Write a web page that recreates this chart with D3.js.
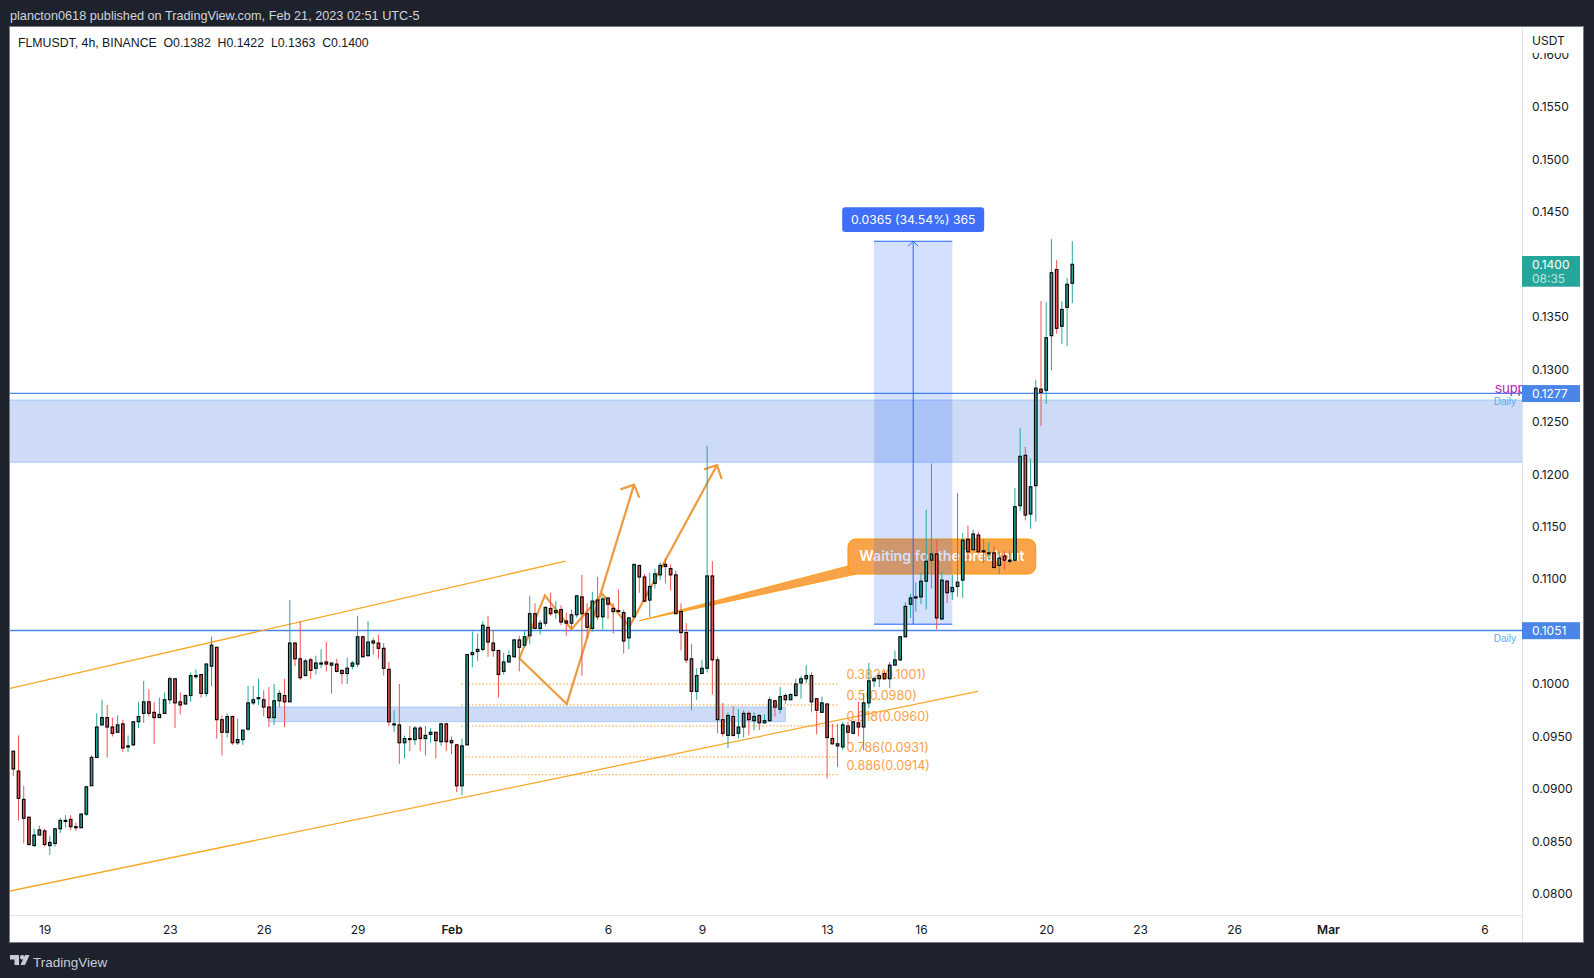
<!DOCTYPE html>
<html>
<head>
<meta charset="utf-8">
<title>FLMUSDT 4h</title>
<script src="https://cdn.jsdelivr.net/npm/d3@7"></script>
<style>
  html, body { margin: 0; padding: 0; background: #1e222d; }
  svg { display: block; }
  text { font-family: "Liberation Sans", sans-serif; }
  .axis text { font-family: Inter, sans-serif; font-size: 12px; fill: #131722; }
  .axis path, .axis line { display: none; }
</style>
</head>
<body>
<svg id="chart" width="1594" height="978"></svg>
<script>
// --- Candle data, one value per 4h bar, in ticks of 0.0001 ---
const opens = [
  936,917,890,873,846,856,860,846,848,862, 869,871,864,863,876,903,930,961,968,959,
  954,962,940,942,964,972,983,973,968,972, 985,1005,983,981,989,1007,1009,991,1017,1035,
  966,954,969,944,947,957,982,986,985,978, 968,984,989,983,1039,1024,1008,1023,1015,1019,
  1021,1018,1019,1013,1010,1017,1019,1045,1027,1041, 1039,1034,1014,961,961,944,948,947,958,948,
  952,954,945,962,946,942,903,942,1028,1031, 1033,1054,1039,1032,1012,1021,1026,1042,1037,1046,
  1067,1053,1058,1072,1068,1071,1060,1058,1066,1083, 1067,1053,1080,1064,1082,1072,1070,1068,1044,1064,
  1113,1102,1080,1096,1104,1114,1110,1104,1069,1049, 1024,993,1010,1015,1103,1023,966,951,969,953,
  959,972,965,970,963,965,984,976,989,985, 989,1001,1005,1008,986,973,981,948,943,940,
  960,953,963,959,982,1003,1005,1010,1005,1018, 1023,1045,1076,1082,1083,1098,1118,1124,1062,1098,
  1088,1093,1099,1138,1128,1142,1126,1125,1125,1113, 1122,1117,1118,1170,1218,1162,1189,1281,1280,1332,
  1395,1341,1359,1382
];
const highs = [
  936,951,903,874,862,865,862,855,862,872, 875,875,868,877,903,932,972,985,980,968,
  970,966,951,964,983,1003,995,983,987,992, 1007,1005,992,990,1011,1014,1009,1020,1045,1035,
  970,972,970,967,956,998,998,1005,994,997, 1000,994,1005,1080,1040,1060,1024,1025,1027,1033,
  1040,1020,1024,1013,1025,1022,1065,1046,1060,1044, 1047,1039,1021,975,1000,951,960,960,960,960,
  958,954,963,963,950,943,948,1028,1050,1048, 1060,1065,1051,1032,1030,1032,1043,1046,1051,1084,
  1077,1061,1074,1087,1079,1075,1068,1071,1085,1104, 1077,1088,1102,1083,1082,1077,1090,1071,1064,1114,
  1113,1105,1106,1110,1116,1120,1114,1108,1077,1058, 1038,1015,1023,1227,1117,1026,982,973,979,976,
  975,974,973,971,971,988,985,997,991,991, 1005,1008,1018,1011,986,988,981,962,962,964,
  964,965,983,991,1020,1007,1010,1013,1021,1032, 1046,1078,1086,1097,1106,1166,1210,1137,1107,1099,
  1104,1182,1144,1151,1147,1145,1138,1135,1131,1126, 1127,1127,1187,1244,1226,1215,1290,1365,1364,1424,
  1404,1365,1387,1422
];
const lows = [
  912,870,848,846,845,856,845,837,845,858, 863,861,860,863,874,903,930,961,930,950,
  954,935,935,941,958,963,969,943,968,972, 981,958,971,980,983,1005,987,988,998,948,
  932,949,942,942,942,955,980,980,969,959, 961,978,959,983,1017,1004,1008,1005,1009,1015,
  1012,991,1011,1000,1000,1014,1016,1025,1026,1028, 1024,1008,960,954,924,929,936,942,936,932,
  944,929,941,936,933,897,894,942,1016,1022, 1031,1026,1026,987,1009,1021,1025,1012,1035,1038,
  1053,1047,1055,1065,1062,1056,1046,1052,1063,1008, 1043,1050,1061,1052,1062,1048,1069,1029,1033,1063,
  1087,1078,1064,1091,1099,1096,1089,1067,1032,1020, 975,985,1010,1011,990,953,950,939,950,948,
  949,951,956,956,962,964,969,972,981,985, 988,986,1001,973,952,973,910,942,921,937,
  943,952,950,937,977,997,997,1004,996,1018, 1022,1045,1063,1069,1076,1071,1091,1052,1061,1077,
  1080,1083,1082,1116,1128,1126,1115,1118,1111,1105, 1109,1114,1117,1165,1156,1148,1155,1246,1267,1299,
  1334,1324,1322,1363
];
const closes = [
  919,891,872,847,856,861,847,849,862,870, 870,864,863,876,902,930,959,968,959,953,
  961,939,941,964,969,983,972,968,971,985, 1005,982,980,989,1008,1008,991,1019,1037,966,
  954,969,944,947,956,982,985,987,978,968, 984,991,983,1039,1024,1006,1022,1013,1020,1020,
  1019,1020,1012,1010,1015,1020,1045,1026,1040,1039, 1034,1015,964,962,944,948,947,958,948,951,
  954,946,962,945,944,903,941,1028,1030,1033, 1056,1040,1032,1009,1021,1027,1042,1035,1045,1067,
  1053,1058,1073,1067,1070,1059,1058,1066,1084,1067, 1054,1079,1064,1081,1076,1069,1069,1041,1063,1114,
  1102,1079,1093,1105,1113,1112,1104,1067,1049,1023, 993,1008,1015,1103,1023,966,953,970,951,959,
  972,966,969,963,965,985,978,988,985,990, 1000,1005,1008,983,975,982,949,943,941,961,
  954,964,959,982,1003,1005,1008,1005,1018,1023, 1045,1074,1082,1083,1098,1117,1124,1063,1099,1087,
  1092,1097,1137,1126,1143,1126,1127,1125,1111,1120, 1118,1118,1169,1217,1161,1188,1282,1278,1330,1392,
  1339,1357,1381,1400
];

// --- Axis ticks ---
const priceTicks = [0.08,0.085,0.09,0.095,0.10,0.105,0.11,0.115,0.12,0.125,0.13,0.135,0.14,0.145,0.15,0.155,0.16];
const timeTickBars = [6,30,48,66,84,114,132,156,174,198,216,234,252,282];
const timeTickLabels = ["19","23","26","29","Feb","6","9","13","16","20","23","26","Mar","6"];

// --- Drawings, [bar index, price] ---
const channelLines = [
  [[-0.63, 0.09959], [105.9, 0.11172]],
  [[-0.63, 0.08027], [184.9, 0.09929]]
];
const zigzagPaths = [
  [[97, 0.10245], [106.1, 0.0981], [119, 0.1190]],
  [[116.4, 0.11855], [119, 0.1190], [120, 0.11776]],
  [[97, 0.10245], [101.9, 0.10845], [107, 0.10521], [112.9, 0.10858], [118.1, 0.10547], [134.9, 0.12087]],
  [[132.4, 0.12046], [134.9, 0.12087], [135.8, 0.11954]]
];
const hLevels = [0.1277, 0.1051];
const zoneBig = { top: 0.12707, bottom: 0.12113 };
const zoneSmall = { left: 49, right: 148, top: 0.09781, bottom: 0.09641 };
const fibValues = [0.1000, 0.0980, 0.0960, 0.09305, 0.09135];
const fibLabels = ["0.382(0.1001)", "0.5(0.0980)", "0.618(0.0960)", "0.786(0.0931)", "0.886(0.0914)"];
const fibBars = [85.9, 158.1, 159.7];
const measure = { left: 165, right: 180, top: 0.1422, bottom: 0.1057, label: "0.0365 (34.54%) 365" };
const callout = { left: 160, right: 196, top: 0.11382, bottom: 0.11048, text: "Waiting for the breakout" };
const calloutTail = [[120, 0.10603], [160, 0.11125], [161.7, 0.11048]];

// --- Frame ---
const frame = { left: 10, top: 27, right: 1583, bottom: 942 };
const plotRight = 1522, plotBottom = 915;
const UP = "#26a69a", DOWN = "#ef5350", BLUE = "#2962ff", LINE_BLUE = "#4a86e8", ORANGE = "#f9a825";

const svg = d3.select("#chart");
const x = d3.scaleLinear().domain([0, 203]).range([13.3, 1072.3]);
const y = d3.scaleLinear().domain([0.08, 0.16]).range([893.84, 54.48]);
const bars = opens.map((o, i) => ({ i, o: o / 1e4, h: highs[i] / 1e4, l: lows[i] / 1e4, c: closes[i] / 1e4 }));
const lineGen = d3.line().x(d => x(d[0])).y(d => y(d[1]));

svg.append("rect").attr("x", frame.left - 0.5).attr("y", frame.top - 0.5)
   .attr("width", frame.right - frame.left + 1).attr("height", frame.bottom - frame.top + 1)
   .attr("fill", "#fff").attr("stroke", "#787b86");

svg.append("clipPath").attr("id", "plot").append("rect")
   .attr("x", frame.left).attr("y", frame.top)
   .attr("width", plotRight - frame.left).attr("height", plotBottom - frame.top);

const plot = svg.append("g").attr("clip-path", "url(#plot)");

// big zone + small zone
function drawZone(x0, x1, top, bottom) {
  plot.append("rect").attr("x", x0).attr("y", y(top)).attr("width", x1 - x0).attr("height", y(bottom) - y(top))
      .attr("fill", "rgba(30,90,220,0.22)").attr("stroke", "rgba(100,170,250,0.45)").attr("stroke-width", 1);
}
drawZone(frame.left - 2, plotRight + 2, zoneBig.top, zoneBig.bottom);
drawZone(x(zoneSmall.left), x(zoneSmall.right), zoneSmall.top, zoneSmall.bottom);

// horizontal daily levels
plot.selectAll(".level").data(hLevels).join("line").attr("class", "level")
    .attr("x1", frame.left).attr("x2", plotRight)
    .attr("y1", d => y(d)).attr("y2", d => y(d))
    .attr("stroke", LINE_BLUE).attr("stroke-width", 1.3);
plot.selectAll(".daily").data(hLevels).join("text").attr("class", "daily")
    .attr("x", 1516).attr("y", d => y(d) + 12).attr("text-anchor", "end")
    .attr("font-size", 10).attr("fill", "#64a8ee").text("Daily");
plot.append("text").attr("x", 1495).attr("y", y(hLevels[0]) - 0).attr("font-size", 14)
    .attr("fill", "#b02bb8").text("supp");

// channel lines
plot.selectAll(".channel").data(channelLines).join("path").attr("class", "channel")
    .attr("d", lineGen).attr("fill", "none").attr("stroke", ORANGE).attr("stroke-width", 1.3);

// fib levels
plot.selectAll(".fib").data(fibValues).join("line").attr("class", "fib")
    .attr("x1", x(fibBars[0])).attr("x2", x(fibBars[1]))
    .attr("y1", d => y(d)).attr("y2", d => y(d))
    .attr("stroke", "#f79a2e").attr("stroke-width", 1).attr("stroke-dasharray", "1.5,2");
plot.selectAll(".fibLabel").data(fibLabels).join("text").attr("class", "fibLabel")
    .attr("x", x(fibBars[2])).attr("y", (d, i) => y(fibValues[i]) - 5)
    .attr("font-size", 12.6).attr("fill", "#f8a04a").style("font-family", "Inter, sans-serif")
    .text(d => d);

// zigzag arrows
plot.selectAll(".zigzag").data(zigzagPaths).join("path").attr("class", "zigzag")
    .attr("d", lineGen).attr("fill", "none").attr("stroke", "#ee9a40").attr("stroke-width", 2.2);

// callout
plot.append("path").attr("d", lineGen(calloutTail) + "Z").attr("fill", "#f9a44a").attr("stroke", "#ff9800").attr("stroke-width", 0.8);
plot.append("rect").attr("x", x(callout.left)).attr("y", y(callout.top))
    .attr("width", x(callout.right) - x(callout.left)).attr("height", y(callout.bottom) - y(callout.top))
    .attr("rx", 8).attr("fill", "#f9a44a").attr("stroke", "#ff9800");
plot.append("text").attr("x", (x(callout.left) + x(callout.right)) / 2).attr("y", (y(callout.top) + y(callout.bottom)) / 2 + 4)
    .attr("text-anchor", "middle").attr("font-size", 14.2).attr("font-weight", 600).attr("fill", "#fff")
    .style("font-family", "Inter, sans-serif").text(callout.text);

// measure box
plot.append("rect").attr("x", x(measure.left)).attr("y", y(measure.top))
    .attr("width", x(measure.right) - x(measure.left)).attr("height", y(measure.bottom) - y(measure.top))
    .attr("fill", "rgba(41,98,255,0.2)");
[measure.top, measure.bottom].forEach(p => {
  plot.append("line").attr("x1", x(measure.left)).attr("x2", x(measure.right)).attr("y1", y(p)).attr("y2", y(p))
      .attr("stroke", BLUE).attr("stroke-width", 1);
});
const midBar = (measure.left + measure.right) / 2;
plot.append("line").attr("x1", x(midBar)).attr("x2", x(midBar)).attr("y1", y(measure.bottom)).attr("y2", y(measure.top))
    .attr("stroke", BLUE).attr("stroke-width", 1);
plot.append("path").attr("d", `M${x(midBar) - 5},${y(measure.top) + 5}L${x(midBar)},${y(measure.top)}L${x(midBar) + 5},${y(measure.top) + 5}`)
    .attr("fill", "none").attr("stroke", BLUE).attr("stroke-width", 1);
plot.append("rect").attr("x", x(midBar) - 71).attr("y", y(measure.top) - 34).attr("width", 142).attr("height", 24.7)
    .attr("rx", 3).attr("fill", "#3f6ef8");
plot.append("text").attr("x", x(midBar)).attr("y", y(measure.top) - 17).attr("text-anchor", "middle")
    .attr("font-size", 12.2).attr("fill", "#fff").style("font-family", "Inter, sans-serif").text(measure.label);

// candles: wicks then bodies
const candle = plot.append("g").selectAll("g").data(bars).join("g");
candle.append("line")
    .attr("x1", d => x(d.i)).attr("x2", d => x(d.i))
    .attr("y1", d => y(d.h)).attr("y2", d => y(d.l))
    .attr("stroke", d => d.c >= d.o ? UP : DOWN).attr("stroke-width", 1);
candle.append("rect")
    .attr("x", d => x(d.i) - 1.3).attr("width", 2.6)
    .attr("y", d => y(Math.max(d.o, d.c)))
    .attr("height", d => Math.max(1, Math.abs(y(d.o) - y(d.c))))
    .attr("fill", d => d.c >= d.o ? UP : DOWN).attr("stroke", "#000").attr("stroke-width", 1.1);

// axes
svg.append("line").attr("x1", plotRight + 0.5).attr("x2", plotRight + 0.5).attr("y1", frame.top).attr("y2", frame.bottom).attr("stroke", "#e0e3eb");
svg.append("line").attr("x1", frame.left).attr("x2", plotRight).attr("y1", plotBottom + 0.5).attr("y2", plotBottom + 0.5).attr("stroke", "#e0e3eb");

svg.append("g").attr("class", "axis").attr("transform", `translate(${plotRight + 10},0)`)
   .call(d3.axisRight(y).tickValues(priceTicks).tickFormat(d3.format(".4f")).tickSize(0).tickPadding(0));

svg.append("g").attr("class", "axis").attr("transform", `translate(0,${plotBottom + 1})`)
   .call(d3.axisBottom(x).tickValues(timeTickBars).tickFormat((d, i) => timeTickLabels[i]).tickSize(0).tickPadding(9))
   .selectAll("text").attr("font-weight", (d, i) => /[A-Z]/.test(timeTickLabels[i]) ? 600 : 400);

// header of the price scale hides the top tick
svg.append("rect").attr("x", plotRight + 1).attr("y", frame.top).attr("width", frame.right - plotRight - 1).attr("height", 26).attr("fill", "#fff");
svg.append("text").attr("x", plotRight + 10).attr("y", 45).attr("font-size", 12).attr("fill", "#131722").style("font-family", "Inter, sans-serif").text("USDT");

// price labels
function priceBox(price, h, color, rows) {
  const top = y(price) - 8.3;
  svg.append("rect").attr("x", plotRight).attr("y", top).attr("width", 58).attr("height", h).attr("fill", color);
  rows.forEach((r, i) => {
    svg.append("text").attr("x", plotRight + 10).attr("y", top + 13 + i * 14).attr("font-size", 12)
       .attr("fill", i ? "#bfe6e2" : "#fff").style("font-family", "Inter, sans-serif").text(r);
  });
}
priceBox(closes[closes.length - 1] / 1e4, 30.7, UP, [d3.format(".4f")(closes[closes.length - 1] / 1e4), "08:35"]);
hLevels.forEach(p => priceBox(p, 17, LINE_BLUE, [d3.format(".4f")(p)]));

// header and legend
svg.append("text").attr("x", 10).attr("y", 20).attr("font-size", 12.7).attr("fill", "#d1d4dc")
   .text("plancton0618 published on TradingView.com, Feb 21, 2023 02:51 UTC-5");
svg.append("text").attr("x", 18).attr("y", 47).attr("font-size", 12.3).attr("fill", "#131722").style("white-space", "pre")
   .text("FLMUSDT, 4h, BINANCE  O0.1382  H0.1422  L0.1363  C0.1400");

// TradingView mark
const logo = svg.append("g").attr("fill", "#c9ccd5").attr("transform", "translate(10,955)");
logo.append("path").attr("d", "M0,0H9V10H4.5V4.5H0Z");
logo.append("circle").attr("cx", 12.2).attr("cy", 2.3).attr("r", 2.2);
logo.append("path").attr("d", "M15,0H19.5L15,10H10.5Z");
svg.append("text").attr("x", 33).attr("y", 966.5).attr("font-size", 13.5).attr("fill", "#c9ccd5").text("TradingView");
</script>
</body>
</html>
